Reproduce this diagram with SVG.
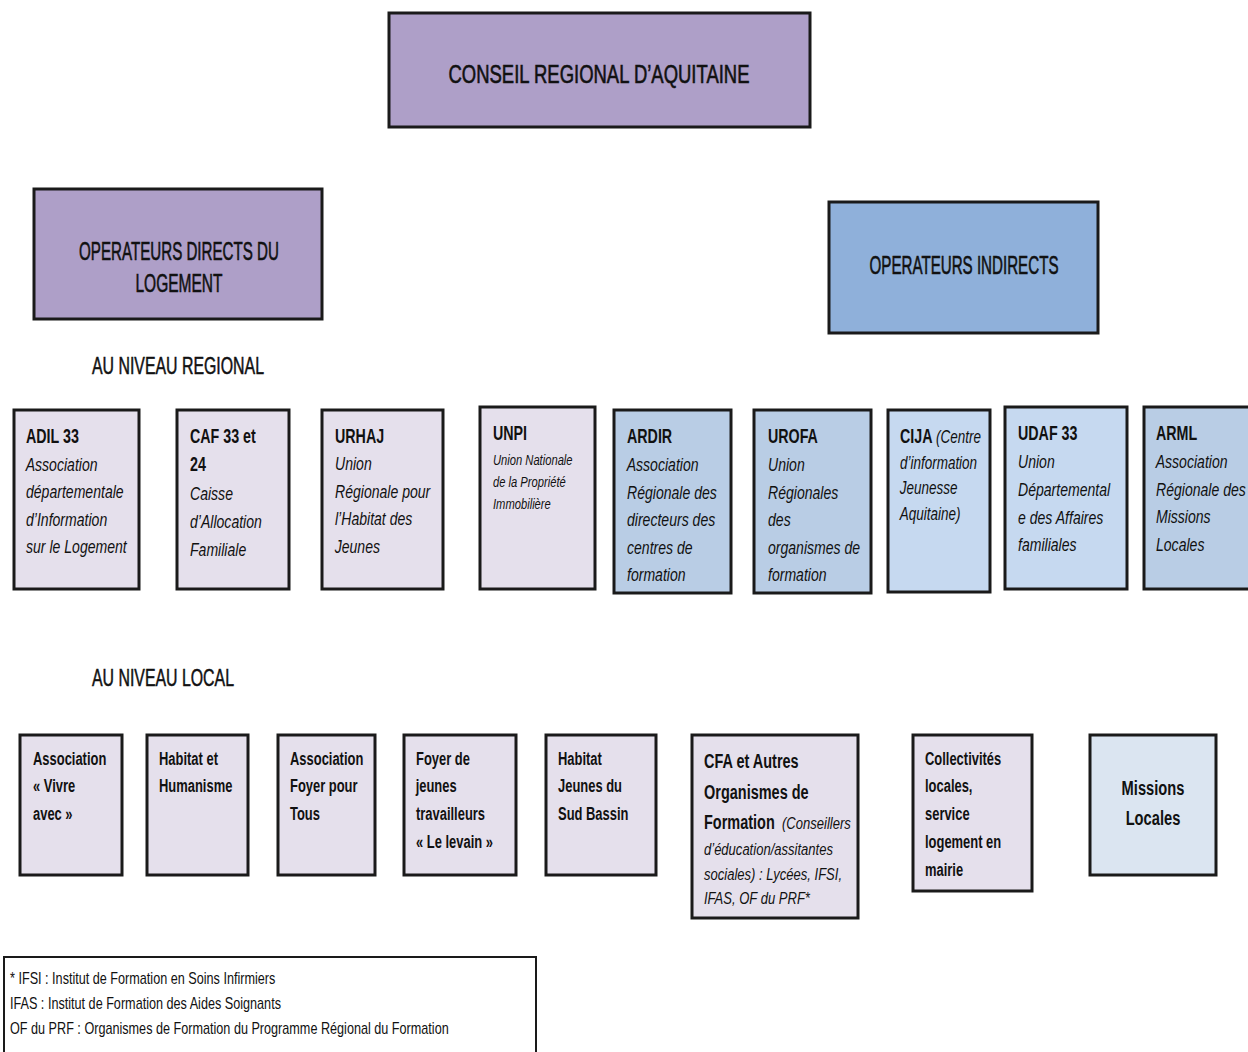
<svg xmlns="http://www.w3.org/2000/svg" width="1248" height="1052" viewBox="0 0 1248 1052">
<style>
text{font-family:"Liberation Sans",Arial,sans-serif;fill:#111;transform-box:fill-box;transform-origin:0 50%}
.box{stroke:#1a1a1a;stroke-width:3}
.hdr{font-size:25px;text-anchor:middle;stroke:#111;stroke-width:.6}
.lbl{font-size:23px;stroke:#111;stroke-width:.5}
.t{font-size:21px;font-weight:bold;transform:scaleX(.68)}
.i{font-size:19px;font-style:italic;transform:scaleX(.74)}
.s{font-size:14px;font-style:italic;transform:scaleX(.8)}
.c{font-size:17.5px;font-style:italic;transform:scaleX(.77)}
.b{font-size:18.5px;font-weight:bold;transform:scaleX(.7)}
.bb{font-size:21px;font-weight:bold;transform:scaleX(.69)}
.ci{font-size:16.5px;font-style:italic;transform:scaleX(.79)}
.m{font-size:21px;font-weight:bold;transform-origin:50% 50%;transform:scaleX(.7);text-anchor:middle}
.f{font-size:16px;transform:scaleX(.79)}
.lav{fill:#e5e0ec}
.pur{fill:#ae9fc8}
.blu{fill:#b9cde5}
.lbl2{fill:#c6d9f0}
.pale{fill:#dbe5f1}
</style>
<g id="conseil"><rect class="box pur" x="389" y="13" width="421" height="114"/><text class="hdr" x="599" y="83" textLength="301" lengthAdjust="spacingAndGlyphs">CONSEIL REGIONAL D’AQUITAINE</text></g>
<g id="directs"><rect class="box pur" x="34" y="189" width="288" height="130"/><text class="hdr" x="179" y="260" textLength="200" lengthAdjust="spacingAndGlyphs">OPERATEURS DIRECTS DU</text><text class="hdr" x="179" y="292" textLength="87" lengthAdjust="spacingAndGlyphs">LOGEMENT</text></g>
<g id="indirects"><rect class="box" style="fill:#8fb0da" x="829" y="202" width="269" height="131"/><text class="hdr" x="964" y="274" textLength="189" lengthAdjust="spacingAndGlyphs">OPERATEURS INDIRECTS</text></g>
<text class="lbl" x="92" y="374" textLength="172" lengthAdjust="spacingAndGlyphs">AU NIVEAU REGIONAL</text>
<text class="lbl" x="92" y="686" textLength="142" lengthAdjust="spacingAndGlyphs">AU NIVEAU LOCAL</text>
<g id="adil"><rect class="box lav" x="14" y="410" width="125" height="179"/><text class="t" x="26" y="443">ADIL 33</text><text class="i" x="26" y="471">Association</text><text class="i" x="26" y="498">départementale</text><text class="i" x="26" y="526">d’Information</text><text class="i" x="26" y="553">sur le Logement</text></g>
<g id="caf"><rect class="box lav" x="177" y="410" width="112" height="179"/><text class="t" x="190" y="443">CAF 33 et</text><text class="t" x="190" y="471">24</text><text class="i" x="190" y="500">Caisse</text><text class="i" x="190" y="528">d’Allocation</text><text class="i" x="190" y="556">Familiale</text></g>
<g id="urhaj"><rect class="box lav" x="322" y="410" width="121" height="179"/><text class="t" x="335" y="443">URHAJ</text><text class="i" x="335" y="470">Union</text><text class="i" x="335" y="498">Régionale pour</text><text class="i" x="335" y="525">l’Habitat des</text><text class="i" x="335" y="553">Jeunes</text></g>
<g id="unpi"><rect class="box lav" x="480" y="407" width="115" height="182"/><text class="t" x="493" y="440">UNPI</text><text class="s" x="493" y="465">Union Nationale</text><text class="s" x="493" y="487">de la Propriété</text><text class="s" x="493" y="509">Immobilière</text></g>
<g id="ardir"><rect class="box blu" x="614" y="410" width="117" height="183"/><text class="t" x="627" y="443">ARDIR</text><text class="i" x="627" y="471">Association</text><text class="i" x="627" y="499">Régionale des</text><text class="i" x="627" y="526">directeurs des</text><text class="i" x="627" y="554">centres de</text><text class="i" x="627" y="581">formation</text></g>
<g id="urofa"><rect class="box blu" x="754" y="410" width="117" height="183"/><text class="t" x="768" y="443">UROFA</text><text class="i" x="768" y="471">Union</text><text class="i" x="768" y="499">Régionales</text><text class="i" x="768" y="526">des</text><text class="i" x="768" y="554">organismes de</text><text class="i" x="768" y="581">formation</text></g>
<g id="cija"><rect class="box lbl2" x="888" y="410" width="102" height="182"/><text class="t" x="900" y="443">CIJA</text><text class="c" x="936" y="443">(Centre</text><text class="c" x="900" y="469">d’information</text><text class="c" x="900" y="494">Jeunesse</text><text class="c" x="900" y="520">Aquitaine)</text></g>
<g id="udaf"><rect class="box lbl2" x="1005" y="407" width="122" height="182"/><text class="t" x="1018" y="440">UDAF 33</text><text class="i" x="1018" y="468">Union</text><text class="i" x="1018" y="496">Départemental</text><text class="i" x="1018" y="524">e des Affaires</text><text class="i" x="1018" y="551">familiales</text></g>
<g id="arml"><rect class="box blu" x="1144" y="407" width="110" height="182"/><text class="t" x="1156" y="440">ARML</text><text class="i" x="1156" y="468">Association</text><text class="i" x="1156" y="496">Régionale des</text><text class="i" x="1156" y="523">Missions</text><text class="i" x="1156" y="551">Locales</text></g>
<g id="vivre"><rect class="box lav" x="20" y="735" width="102" height="140"/><text class="b" x="33" y="765">Association</text><text class="b" x="33" y="792">« Vivre</text><text class="b" x="33" y="820">avec »</text></g>
<g id="humanisme"><rect class="box lav" x="147" y="735" width="101" height="140"/><text class="b" x="159" y="765">Habitat et</text><text class="b" x="159" y="792">Humanisme</text></g>
<g id="foyertous"><rect class="box lav" x="278" y="735" width="97" height="140"/><text class="b" x="290" y="765">Association</text><text class="b" x="290" y="792">Foyer pour</text><text class="b" x="290" y="820">Tous</text></g>
<g id="levain"><rect class="box lav" x="404" y="735" width="112" height="140"/><text class="b" x="416" y="765">Foyer de</text><text class="b" x="416" y="792">jeunes</text><text class="b" x="416" y="820">travailleurs</text><text class="b" x="416" y="848">« Le levain »</text></g>
<g id="sudbassin"><rect class="box lav" x="546" y="735" width="110" height="140"/><text class="b" x="558" y="765">Habitat</text><text class="b" x="558" y="792">Jeunes du</text><text class="b" x="558" y="820">Sud Bassin</text></g>
<g id="cfa"><rect class="box lav" x="692" y="735" width="166" height="183"/><text class="bb" x="704" y="768">CFA et Autres</text><text class="bb" x="704" y="799">Organismes de</text><text class="bb" x="704" y="829">Formation</text><text class="ci" x="782" y="829">(Conseillers</text><text class="ci" x="704" y="855">d’éducation/assitantes</text><text class="ci" x="704" y="880">sociales) : Lycées, IFSI,</text><text class="ci" x="704" y="904">IFAS, OF du PRF*</text></g>
<g id="collectivites"><rect class="box lav" x="913" y="735" width="119" height="156"/><text class="b" x="925" y="765">Collectivités</text><text class="b" x="925" y="792">locales,</text><text class="b" x="925" y="820">service</text><text class="b" x="925" y="848">logement en</text><text class="b" x="925" y="876">mairie</text></g>
<g id="missions"><rect class="box pale" x="1090" y="735" width="126" height="140"/><text class="m" x="1153" y="795">Missions</text><text class="m" x="1153" y="825">Locales</text></g>
<g id="connectors"></g>
<g id="footnote"><rect x="4" y="957" width="532" height="100" fill="#fff" stroke="#1a1a1a" stroke-width="2"/><text class="f" x="10" y="984">* IFSI : Institut de Formation en Soins Infirmiers</text><text class="f" x="10" y="1009">IFAS : Institut de Formation des Aides Soignants</text><text class="f" x="10" y="1034">OF du PRF : Organismes de Formation du Programme Régional du Formation</text></g>
</svg>
